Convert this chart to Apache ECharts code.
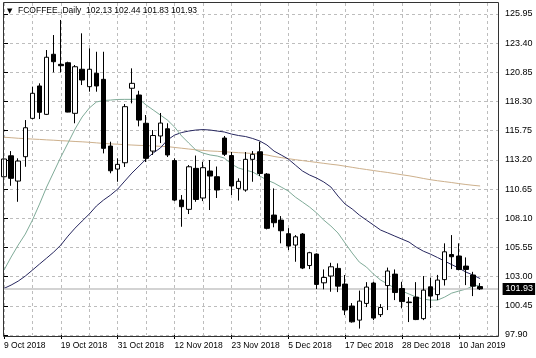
<!DOCTYPE html>
<html>
<head>
<meta charset="utf-8">
<script src="https://cdn.jsdelivr.net/npm/echarts@6/dist/echarts.min.js"></script>
<style>
html,body{margin:0;padding:0;background:#fff;}
#c{width:536px;height:358px;}
</style>
</head>
<body>
<div id="c"></div>
<script>
// ---- data (daily bars, 9 Oct 2018 .. 15 Jan 2019) ----
const symbolName = 'FCOFFEE.,Daily';
const opens  = [111.73,113.56,111.35,113.48,116.83,119.66,117.18,122.43,121.55,121.69,117.27,121.12,119.60,120.77,120.24,114.41,112.40,112.95,119.46,118.87,116.40,113.97,115.29,115.92,113.14,109.69,108.88,112.46,109.87,112.23,111.73,115.11,113.58,110.71,110.57,113.25,113.91,111.96,108.38,107.94,106.75,105.76,106.72,103.97,104.97,102.46,103.05,103.72,102.35,100.43,99.20,100.66,102.44,99.68,102.22,103.22,101.96,100.78,101.21,99.33,102.11,101.43,102.74,104.93,104.80,103.92,103.14,102.13];
const highs  = [113.48,113.97,113.34,116.68,119.60,119.89,122.80,124.11,125.43,121.78,121.49,124.26,122.95,122.65,122.65,114.79,113.34,118.08,121.20,119.24,117.12,115.81,117.30,116.40,113.34,110.13,112.75,113.58,113.04,113.19,112.62,115.29,113.89,111.59,113.89,113.97,114.79,112.05,110.71,108.29,107.24,106.63,106.81,105.17,105.03,103.63,104.21,104.16,103.14,100.69,101.78,102.52,102.55,100.60,103.79,103.63,102.55,101.21,102.52,103.05,102.92,103.15,105.91,106.63,105.91,104.68,103.42,102.44];
const lows   = [110.85,110.94,109.54,112.60,116.75,116.77,117.12,120.85,120.85,117.36,116.40,119.74,119.16,119.16,113.77,112.03,111.29,112.58,118.14,116.13,113.02,113.63,114.67,113.45,109.60,107.36,108.47,109.54,109.60,108.82,109.87,113.54,110.13,109.65,110.42,111.29,111.79,107.13,107.31,105.91,105.32,104.30,103.66,103.66,101.91,101.89,101.68,101.65,99.64,98.98,98.46,100.34,99.20,99.47,100.08,100.95,100.23,99.03,99.20,99.20,100.25,100.95,102.22,103.66,103.55,102.26,101.30,101.83];
const closes = [113.28,111.59,113.10,116.01,119.02,117.36,122.17,121.78,121.43,117.38,121.34,120.18,121.12,119.66,114.21,112.25,112.81,117.85,119.89,116.68,113.34,115.33,116.42,113.63,109.69,109.11,112.60,109.74,112.52,111.79,110.57,113.69,110.92,111.33,113.25,113.69,112.01,107.22,107.71,107.01,105.67,106.48,103.75,105.09,102.32,102.93,103.86,102.17,100.08,99.05,100.86,102.09,99.38,100.30,103.49,101.61,100.82,100.73,99.25,101.82,101.30,102.70,105.17,104.74,103.62,103.63,102.17,101.93];
// moving averages as drawn in the reference
const maFast = [103.57,104.71,105.76,106.72,107.94,109.34,110.83,112.14,113.45,114.67,115.90,116.95,117.73,118.26,118.39,118.43,118.48,118.49,118.49,118.52,118.00,117.56,117.12,116.68,116.07,115.29,114.67,114.06,113.80,113.63,113.54,113.36,112.84,112.49,112.31,112.14,111.79,111.44,111.18,110.83,110.48,109.95,109.52,109.08,108.56,107.94,107.42,106.81,105.93,105.06,104.27,103.84,103.22,102.70,102.35,102.00,101.74,101.48,101.21,101.04,100.95,100.95,101.21,101.56,101.74,101.91,102.17,102.26];
const maMid  = [101.97,102.26,102.61,103.05,103.57,104.10,104.62,105.15,105.76,106.54,107.24,107.86,108.47,109.17,109.69,110.13,110.65,111.35,112.05,112.66,113.28,113.80,114.24,114.94,115.37,115.59,115.72,115.81,115.85,115.81,115.72,115.64,115.46,115.33,115.24,115.07,114.85,114.50,113.97,113.63,113.28,112.75,112.23,111.88,111.61,111.27,110.83,110.04,109.34,108.91,108.38,107.94,107.51,107.07,106.81,106.54,106.28,106.02,105.58,105.23,104.97,104.67,104.36,104.05,103.75,103.40,103.14,102.83];
const maSlow = [115.18,115.14,115.09,115.06,115.02,114.99,114.95,114.92,114.88,114.85,114.81,114.78,114.74,114.69,114.64,114.60,114.57,114.53,114.50,114.47,114.45,114.42,114.39,114.36,114.29,114.22,114.15,114.08,114.03,113.98,113.95,113.91,113.87,113.83,113.80,113.76,113.71,113.63,113.50,113.40,113.31,113.22,113.14,113.06,112.98,112.90,112.82,112.75,112.65,112.55,112.45,112.36,112.27,112.18,112.10,112.00,111.90,111.81,111.70,111.58,111.47,111.38,111.30,111.22,111.13,111.05,110.98,110.92];
// axis tick labels
const xLabels = ['9 Oct 2018','19 Oct 2018','31 Oct 2018','12 Nov 2018','23 Nov 2018','5 Dec 2018','17 Dec 2018','28 Dec 2018','10 Jan 2019'];
const xLabelBars = [0,8,16,24,32,40,48,56,64];
const yTicks = [97.90,100.45,103.00,105.55,108.10,110.65,113.20,115.75,118.30,120.85,123.40,125.95];

// ---- chart ----
const FONT = 'Liberation Sans';
const last = closes.length - 1;
const titleText = symbolName + '  ' + [opens[last], highs[last], lows[last], closes[last]].map(v => v.toFixed(2)).join(' ');
const candleData = opens.map((o, i) => [i, o, closes[i], lows[i], highs[i]]);
const toPairs = arr => arr.map((v, i) => [i, v]);
const dashed = { color: '#bdbdbd', type: [3, 3], width: 1 };

const chart = echarts.init(document.getElementById('c'), null, { renderer: 'canvas', width: 536, height: 358 });
chart.setOption({
  animation: false,
  backgroundColor: '#ffffff',
  grid: { left: 4, top: 3, width: 494.6, height: 332, outerBoundsMode: 'none', containLabel: false },
  xAxis: [
    { type: 'value', position: 'top', min: 0, max: 69.6, interval: 4,
      axisLine: { show: false }, axisTick: { show: false }, axisLabel: { show: false },
      splitLine: { show: true, lineStyle: dashed } },
    { type: 'value', position: 'bottom', min: 0, max: 69.6, interval: 8,
      axisLine: { show: false },
      axisTick: { show: true, length: 4, customValues: xLabelBars, lineStyle: { color: '#000', width: 1 } },
      axisLabel: { show: true, customValues: xLabelBars, align: 'left', margin: 6, fontSize: 8.5, fontFamily: FONT, color: '#000',
        formatter: v => { const k = xLabelBars.indexOf(Math.round(v)); return (k >= 0 && Math.abs(v - Math.round(v)) < 1e-6) ? xLabels[k] : ''; } },
      splitLine: { show: false } }
  ],
  yAxis: {
    type: 'value', position: 'right', min: yTicks[0], max: 126.91, interval: 2.55,
    axisLine: { show: false },
    axisTick: { show: true, length: 4, customValues: yTicks, lineStyle: { color: '#000', width: 1 } },
    axisLabel: { show: true, customValues: yTicks, margin: 6.5, fontSize: 9, fontFamily: FONT, color: '#000',
      formatter: v => { const k = (v - yTicks[0]) / 2.55; return Math.abs(k - Math.round(k)) < 1e-6 ? v.toFixed(2) : ''; } },
    splitLine: { show: true, lineStyle: dashed }
  },
  series: [
    { type: 'line', name: 'slow', data: toPairs(maSlow), xAxisIndex: 0, showSymbol: false, silent: true, z: 2, clip: false,
      lineStyle: { color: '#cdb08c', width: 1 },
      markLine: { silent: true, symbol: 'none', animation: false,
        lineStyle: { color: '#c4c4c4', width: 1.5, type: 'solid' },
        label: { show: true, position: 'end', distance: 4, formatter: p => p.value.toFixed(2),
          backgroundColor: '#000', color: '#fff', fontSize: 9, fontFamily: FONT, padding: [2, 2, 1, 3] },
        data: [{ yAxis: closes[last] }] } },
    { type: 'line', name: 'mid', data: toPairs(maMid), xAxisIndex: 0, showSymbol: false, silent: true, z: 2,
      lineStyle: { color: '#27275f', width: 1 } },
    { type: 'line', name: 'fast', data: toPairs(maFast), xAxisIndex: 0, showSymbol: false, silent: true, z: 2,
      lineStyle: { color: '#7fab98', width: 1 } },
    { type: 'candlestick', name: 'price', data: candleData, xAxisIndex: 0, barWidth: 5, z: 5,
      itemStyle: { color: '#ffffff', color0: '#000000', borderColor: '#000000', borderColor0: '#000000', borderWidth: 1 } }
  ],
  graphic: [
    { type: 'rect', silent: true, z: 100, shape: { x: 3.5, y: 2.5, width: 495, height: 334 },
      style: { fill: null, stroke: '#333333', lineWidth: 1 } },
    { type: 'text', silent: true, z: 100, x: 7, y: 11,
      style: { text: '\u25BC', fontSize: 7, fontFamily: 'DejaVu Sans', fill: '#000', verticalAlign: 'middle' } },
    { type: 'text', silent: true, z: 100, x: 18, y: 11,
      style: { text: titleText, fontSize: 8.5, fontFamily: FONT, fill: '#000', verticalAlign: 'middle' } }
  ]
});
</script>
</body>
</html>
